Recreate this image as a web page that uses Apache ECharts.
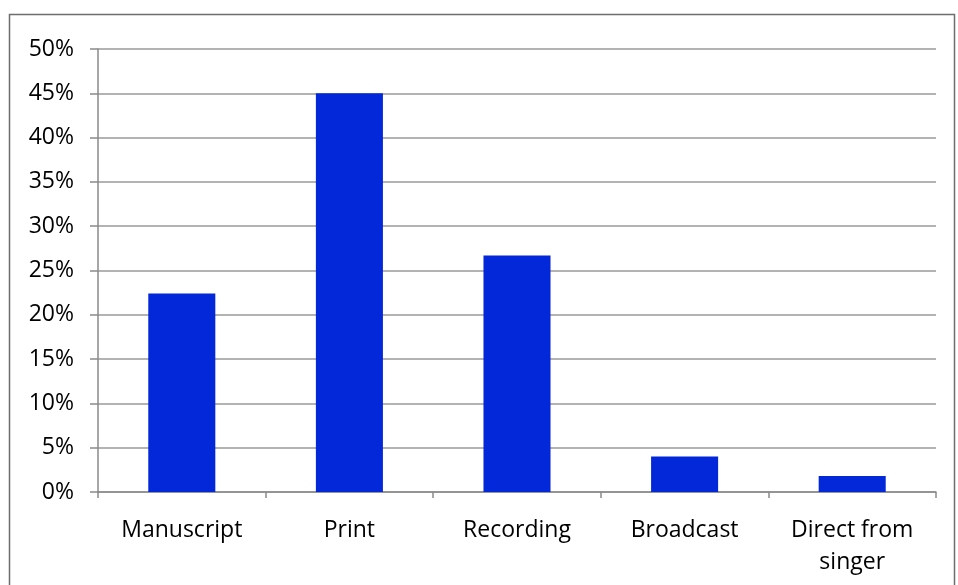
<!DOCTYPE html>
<html><head><meta charset="utf-8">
<script src="https://cdn.jsdelivr.net/npm/echarts@6/dist/echarts.min.js"></script>
<style>html,body{margin:0;padding:0;background:#fff}#c{width:958px;height:585px}</style>
</head><body><div id="c"></div>
<script>
const categories = ['Manuscript', 'Print', 'Recording', 'Broadcast', 'Direct from\nsinger'];
const values = [22.4, 45.0, 26.7, 4.0, 1.8];
const yTicks = { min: 0, max: 50, interval: 5 };

const chart = echarts.init(document.getElementById('c'));
chart.setOption({
  animation: false,
  backgroundColor: '#fff',
  textStyle: { fontFamily: 'Open Sans' },
  graphic: [{
    type: 'rect', shape: { x: 9.5, y: 14.5, width: 945, height: 600 },
    style: { fill: 'none', stroke: '#6e6e6e', lineWidth: 1.5 }, silent: true, z: -1
  }],
  grid: { left: 98, right: 22, top: 49, bottom: 93 },
  xAxis: {
    type: 'category', data: categories,
    axisLine: { lineStyle: { color: '#8a8a8a', width: 1.5 } },
    axisTick: { show: true, alignWithLabel: false, length: 6, lineStyle: { color: '#8a8a8a', width: 1.5 } },
    axisLabel: { color: '#000', fontSize: 23, margin: 22, lineHeight: 32, interval: 0 }
  },
  yAxis: {
    type: 'value', min: yTicks.min, max: yTicks.max, interval: yTicks.interval,
    axisLine: { show: true, lineStyle: { color: '#8a8a8a', width: 1.5 } },
    axisTick: { show: true, length: 8, lineStyle: { color: '#8a8a8a', width: 1.5 } },
    axisLabel: { color: '#000', fontSize: 23, margin: 24, padding: [7, 0, 0, 0], formatter: v => v + '%' },
    splitLine: { lineStyle: { color: '#9a9a9a', width: 1.5 } }
  },
  series: [{
    type: 'bar', data: values, barWidth: '40%',
    itemStyle: { color: '#0328d9' }
  }]
});
</script></body></html>
